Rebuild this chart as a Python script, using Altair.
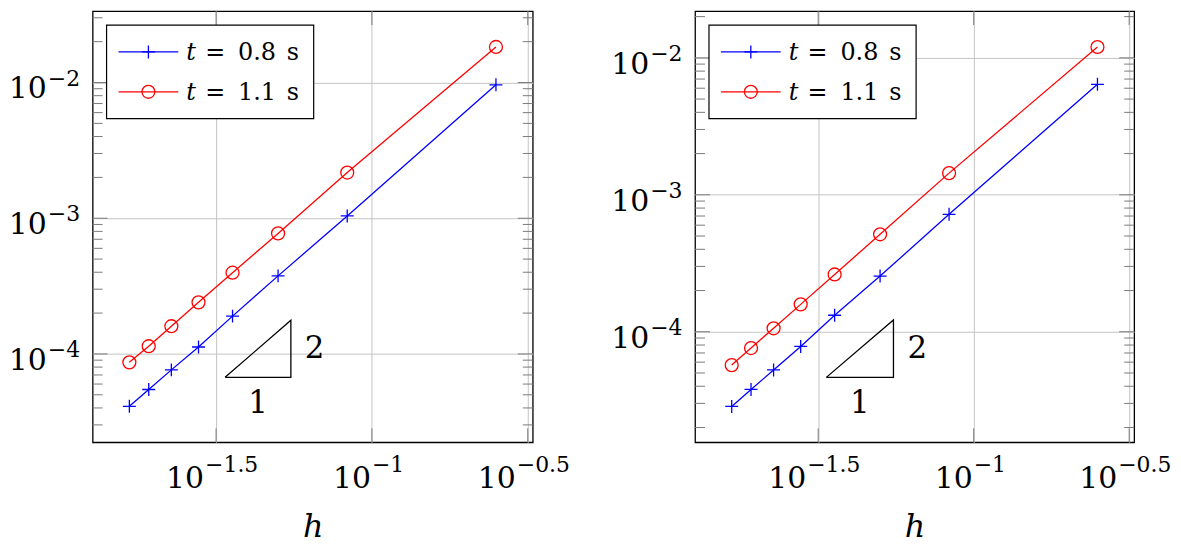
import altair as alt
import pandas as pd
import math

# ---------------- data ----------------
h_vals = [1/4, 1/12, 1/20, 1/28, 1/36, 1/44, 1/52, 1/60]
series_names = ["t = 0.8 s", "t = 1.1 s"]
series_times = ["0.8", "1.1"]

left_blue = [9.62e-3, 1.04e-3, 3.76e-4, 1.90e-4, 1.125e-4, 7.63e-5, 5.47e-5, 4.11e-5]
left_red = [1.828e-2, 2.17e-3, 7.73e-4, 3.97e-4, 2.40e-4, 1.60e-4, 1.14e-4, 8.67e-5]
right_blue = [6.41e-3, 7.20e-4, 2.55e-4, 1.32e-4, 7.81e-5, 5.26e-5, 3.79e-5, 2.85e-5]
right_red = [1.20e-2, 1.44e-3, 5.15e-4, 2.62e-4, 1.585e-4, 1.06e-4, 7.6e-5, 5.71e-5]

# slope triangles (bottom-left, bottom-right, top-right, back)
left_tri_x = [10**-1.471, 10**-1.260, 10**-1.260, 10**-1.471]
left_tri_y = [10**-4.172, 10**-4.172, 10**-3.752, 10**-4.172]
right_tri_x = [10**-1.474, 10**-1.258, 10**-1.258, 10**-1.474]
right_tri_y = [10**-4.333, 10**-4.333, 10**-3.914, 10**-4.333]

x_domain = [10**-1.896, 10**-0.484]
left_y_domain = [10**-4.651, 10**-1.474]
right_y_domain = [10**-4.807, 10**-1.659]

x_tick_values = [10**-1.5, 10**-1, 10**-0.5]
x_tick_exps = ["\u22121.5", "\u22121", "\u22120.5"]
y_tick_values = [1e-2, 1e-3, 1e-4]
y_tick_exps = ["\u22122", "\u22123", "\u22124"]
minor_candidates = [m * 10.0**k for k in range(-6, 0) for m in range(2, 10)]

# ---------------- style ----------------
FONT = "DejaVu Serif"
BLUE = "#0000ff"
RED = "#ff0000"
GRID = "#c4c4c4"
TICK = "#7a7a7a"
PLUS = "M-1,0L1,0M0,-1L0,1"
H = 433


def txt(**kw):
    base = dict(font=FONT, fontWeight="normal", color="black")
    base.update(kw)
    return base


def panel(blue, red, y_domain, tri_x, tri_y, W):
    xs = alt.Scale(type="log", domain=x_domain, nice=False)
    ys = alt.Scale(type="log", domain=y_domain, nice=False)
    xaxis = alt.Axis(values=x_tick_values, grid=True, gridColor=GRID, gridWidth=1,
                     labels=False, ticks=False, domain=False, title="h",
                     titleFont=FONT, titleFontSize=32, titleFontStyle="italic",
                     titleFontWeight="normal", titleColor="black", titlePadding=70)
    yaxis = alt.Axis(values=y_tick_values, grid=True, gridColor=GRID, gridWidth=1,
                     labels=False, ticks=False, domain=False, title=None)

    def X(f):
        return alt.X(f, type="quantitative", scale=xs, axis=xaxis)

    def Y(f):
        return alt.Y(f, type="quantitative", scale=ys, axis=yaxis)

    df = pd.DataFrame({
        "h": h_vals * 2,
        "err": blue + red,
        "series": [n for n in series_names for _ in h_vals],
    })
    color = alt.Color("series:N", scale=alt.Scale(domain=series_names, range=[BLUE, RED]), legend=None)
    shape = alt.Shape("series:N", scale=alt.Scale(domain=series_names, range=[PLUS, "circle"]), legend=None)

    lines = alt.Chart(df).mark_line(strokeWidth=1.3).encode(X("h"), Y("err"), color)
    pts = alt.Chart(df).mark_point(filled=False, size=169, strokeWidth=1.3, opacity=1).encode(
        X("h"), Y("err"), color, shape)

    # ticks (inside, mirrored)
    ymin, ymax = y_domain
    minor = [v for v in minor_candidates if ymin <= v <= ymax]
    df_major_y = pd.DataFrame({"v": y_tick_values})
    df_minor_y = pd.DataFrame({"v": minor})
    df_major_x = pd.DataFrame({"v": x_tick_values})
    tick_layers = []
    for d, ln in [(df_major_y, 15), (df_minor_y, 10)]:
        tick_layers.append(alt.Chart(d).mark_rule(color=TICK, strokeWidth=1).encode(
            Y("v"), x=alt.value(0), x2=alt.value(ln)))
        tick_layers.append(alt.Chart(d).mark_rule(color=TICK, strokeWidth=1).encode(
            Y("v"), x=alt.value(W - ln), x2=alt.value(W)))
    tick_layers.append(alt.Chart(df_major_x).mark_rule(color=TICK, strokeWidth=1).encode(
        X("v"), y=alt.value(H - 14), y2=alt.value(H)))
    tick_layers.append(alt.Chart(df_major_x).mark_rule(color=TICK, strokeWidth=1).encode(
        X("v"), y=alt.value(0), y2=alt.value(14)))

    # tick labels: 10 with superscript exponent
    df_ylab = pd.DataFrame({"v": y_tick_values, "e": y_tick_exps})
    ylab_base = alt.Chart(df_ylab).mark_text(**txt(text="10", fontSize=30, align="right",
                                                   baseline="alphabetic", dy=16)).encode(
        Y("v"), x=alt.value(-46))
    ylab_exp = alt.Chart(df_ylab).mark_text(**txt(fontSize=22, align="left",
                                                  baseline="alphabetic", dy=3)).encode(
        Y("v"), x=alt.value(-45), text="e:N")
    df_xlab = pd.DataFrame({"v": x_tick_values, "e": x_tick_exps})
    xa = df_xlab[df_xlab["e"] != "\u22121"]
    xb = df_xlab[df_xlab["e"] == "\u22121"]
    xlab_layers = []
    for d, off in [(xa, -12), (xb, -1)]:
        xlab_layers.append(alt.Chart(d).mark_text(**txt(text="10", fontSize=30, align="right",
                                                        baseline="alphabetic", dx=off)).encode(
            X("v"), y=alt.value(H + 46)))
        xlab_layers.append(alt.Chart(d).mark_text(**txt(fontSize=22, align="left",
                                                       baseline="alphabetic", dx=off + 1)).encode(
            X("v"), y=alt.value(H + 30), text="e:N"))

    # slope triangle
    df_tri = pd.DataFrame({"x": tri_x, "y": tri_y, "o": list(range(len(tri_x)))})
    tri = alt.Chart(df_tri).mark_line(color="black", strokeWidth=1.3).encode(X("x"), Y("y"), order="o:Q")
    df_t2 = pd.DataFrame({"x": [tri_x[1]], "y": [math.sqrt(tri_y[1] * tri_y[2])], "t": ["2"]})
    df_t1 = pd.DataFrame({"x": [math.sqrt(tri_x[0] * tri_x[1])], "y": [tri_y[0]], "t": ["1"]})
    lab2 = alt.Chart(df_t2).mark_text(**txt(fontSize=31, align="left", baseline="middle",
                                            dx=14)).encode(X("x"), Y("y"), text="t:N")
    lab1 = alt.Chart(df_t1).mark_text(**txt(fontSize=31, align="center", baseline="middle",
                                            dy=27)).encode(X("x"), Y("y"), text="t:N")

    # legend box
    leg = [alt.Chart(pd.DataFrame({"a": [0]})).mark_rect(fill="white", stroke="black", strokeWidth=1.2).encode(
        x=alt.value(14), x2=alt.value(222), y=alt.value(14), y2=alt.value(108))]
    for i, (name, tval, col, shp) in enumerate(zip(series_names, series_times, [BLUE, RED], [PLUS, "circle"])):
        ry = 41 + 40 * i
        one = alt.Chart(pd.DataFrame({"series": [name]}))
        leg.append(one.mark_rule(color=col, strokeWidth=1.3).encode(
            x=alt.value(26), x2=alt.value(86), y=alt.value(ry)))
        leg.append(one.mark_point(filled=False, size=169, strokeWidth=1.3, opacity=1, color=col, shape=shp).encode(
            x=alt.value(56), y=alt.value(ry)))
        leg.append(one.mark_text(**txt(text="t", fontSize=24, fontStyle="italic", align="left",
                                       baseline="alphabetic")).encode(x=alt.value(94), y=alt.value(ry + 8)))
        leg.append(one.mark_text(**txt(text="=", fontSize=24, align="left",
                                       baseline="alphabetic")).encode(x=alt.value(113), y=alt.value(ry + 8)))
        leg.append(one.mark_text(**txt(text=tval, fontSize=24, align="left",
                                       baseline="alphabetic")).encode(x=alt.value(146), y=alt.value(ry + 8)))
        leg.append(one.mark_text(**txt(text="s", fontSize=24, align="left",
                                       baseline="alphabetic")).encode(x=alt.value(195), y=alt.value(ry + 8)))

    return alt.layer(*tick_layers, lines, pts, tri, lab2, lab1, ylab_base, ylab_exp,
                     *xlab_layers, *leg).properties(width=W, height=H)


left = panel(left_blue, left_red, left_y_domain, left_tri_x, left_tri_y, 442)
right = panel(right_blue, right_red, right_y_domain, right_tri_x, right_tri_y, 441)

chart = alt.hconcat(left, right, spacing=163, bounds="flush").properties(
    padding=0
).configure_view(stroke="black", strokeWidth=1.3)

chart.save("out.html", embed_options={"renderer": "svg", "actions": False})
